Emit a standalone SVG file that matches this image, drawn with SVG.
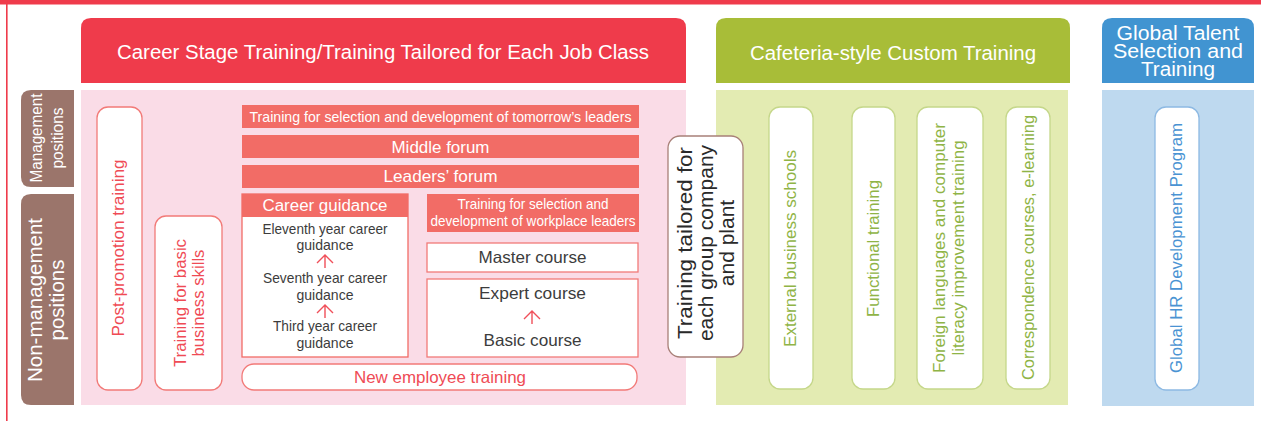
<svg xmlns="http://www.w3.org/2000/svg" width="1261" height="421" viewBox="0 0 1261 421">
<defs>
<style>
text{font-family:"Liberation Sans",Arial,Helvetica,sans-serif;}
.hd{fill:#ffffff;font-size:20px;text-anchor:middle;}
.wt{fill:#ffffff;text-anchor:middle;}
.dk{fill:#3c3c3c;text-anchor:middle;font-size:15px;}
.rt{fill:#ef4b55;text-anchor:middle;}
.gt{fill:#8fb446;text-anchor:middle;font-size:17px;}
.bt{fill:#4a93d3;text-anchor:middle;font-size:17px;}
.bar{fill:#f26c66;}
.rbox{fill:#ffffff;stroke:#f27a78;stroke-width:1.3;}
.gbox{fill:#ffffff;stroke:#c5d78a;stroke-width:1.3;}
.bbox{fill:#ffffff;stroke:#8db9e3;stroke-width:1.3;}
.arr{fill:none;stroke:#f0505a;stroke-width:1.4;}
</style>
<path id="up" d="M-8,8 L0,0 L8,8 M0,0 V13"/>
</defs>

<!-- outer frame -->
<rect x="0" y="0" width="1261" height="4.5" fill="#ef3b4b"/>
<rect x="6" y="0" width="1.6" height="421" fill="#ef3b4b"/>

<!-- column headers and bodies -->
<g id="col-career">
<path d="M81,83 V28 Q81,18 91,18 H676 Q686,18 686,28 V83 Z" fill="#ef3b4b"/>
<rect x="81" y="90" width="605" height="315" fill="#fadce7"/>
<text class="hd" x="383" y="59" textLength="532" lengthAdjust="spacingAndGlyphs">Career Stage Training/Training Tailored for Each Job Class</text>
</g>
<g id="col-cafeteria">
<path d="M716,83 V28 Q716,18 726,18 H1060 Q1070,18 1070,28 V83 Z" fill="#a8bd38"/>
<rect x="716" y="90" width="352" height="315" fill="#e3ebb2"/>
<text class="hd" x="893" y="60" textLength="286" lengthAdjust="spacingAndGlyphs">Cafeteria-style Custom Training</text>
</g>
<g id="col-global">
<path d="M1102,83 V28 Q1102,18 1112,18 H1244 Q1254,18 1254,28 V83 Z" fill="#4194d1"/>
<rect x="1102" y="90" width="152" height="316" fill="#bed9ef"/>
<text class="hd" style="font-size:20px"><tspan x="1178" y="40" textLength="123" lengthAdjust="spacingAndGlyphs">Global Talent</tspan><tspan x="1178" y="58" textLength="130" lengthAdjust="spacingAndGlyphs">Selection and</tspan><tspan x="1178" y="76" textLength="74" lengthAdjust="spacingAndGlyphs">Training</tspan></text>
</g>

<!-- row labels -->
<g id="label-management">
<path d="M74,90 H31 Q21,90 21,100 V177 Q21,187 31,187 H74 Z" fill="#9b756b"/>
<text class="wt" style="font-size:16px" transform="translate(42,138) rotate(-90)"><tspan x="0" y="0" textLength="89" lengthAdjust="spacingAndGlyphs">Management</tspan><tspan x="0" dy="21" textLength="61" lengthAdjust="spacingAndGlyphs">positions</tspan></text>
</g>
<g id="label-nonmanagement">
<path d="M74,194 H31 Q21,194 21,204 V395 Q21,405 31,405 H74 Z" fill="#9b756b"/>
<text class="wt" style="font-size:20.5px" transform="translate(42,300) rotate(-90)"><tspan x="0" y="0">Non-management</tspan><tspan x="0" dy="22">positions</tspan></text>
</g>

<!-- career stage nodes -->
<g id="post-promotion">
<rect class="rbox" x="97" y="107" width="45" height="283" rx="11"/>
<text class="rt" style="font-size:16.5px" transform="translate(124,248) rotate(-90)" textLength="177" lengthAdjust="spacingAndGlyphs">Post-promotion training</text>
</g>
<g id="basic-skills">
<rect class="rbox" x="155" y="216" width="67" height="174" rx="11"/>
<text class="rt" style="font-size:16.5px" transform="translate(185.5,303) rotate(-90)"><tspan x="0" y="0" textLength="128" lengthAdjust="spacingAndGlyphs">Training for basic</tspan><tspan x="0" dy="18" textLength="107" lengthAdjust="spacingAndGlyphs">business skills</tspan></text>
</g>
<g id="tomorrows-leaders">
<rect class="bar" x="242" y="105" width="397" height="23"/>
<text class="wt" style="font-size:15px" x="440.5" y="121.5" textLength="382" lengthAdjust="spacingAndGlyphs">Training for selection and development of tomorrow’s leaders</text>
</g>
<g id="middle-forum">
<rect class="bar" x="242" y="135" width="397" height="23"/>
<text class="wt" style="font-size:17px" x="440.5" y="152.5" textLength="98" lengthAdjust="spacingAndGlyphs">Middle forum</text>
</g>
<g id="leaders-forum">
<rect class="bar" x="242" y="165" width="397" height="23"/>
<text class="wt" style="font-size:17px" x="440.5" y="182" textLength="114" lengthAdjust="spacingAndGlyphs">Leaders’ forum</text>
</g>
<g id="career-guidance">
<rect x="242" y="194" width="166" height="163" fill="#ffffff" stroke="#f26c66" stroke-width="1.3"/>
<rect class="bar" x="242" y="194" width="166" height="23"/>
<text class="wt" style="font-size:16px" x="325" y="211" textLength="125" lengthAdjust="spacingAndGlyphs">Career guidance</text>
<text class="dk" x="325" y="233.5" textLength="125" lengthAdjust="spacingAndGlyphs">Eleventh year career</text>
<text class="dk" x="325" y="250" textLength="57" lengthAdjust="spacingAndGlyphs">guidance</text>
<text class="dk" x="325" y="282.5" textLength="124" lengthAdjust="spacingAndGlyphs">Seventh year career</text>
<text class="dk" x="325" y="300" textLength="57" lengthAdjust="spacingAndGlyphs">guidance</text>
<text class="dk" x="325" y="330.5" textLength="104" lengthAdjust="spacingAndGlyphs">Third year career</text>
<text class="dk" x="325" y="348" textLength="57" lengthAdjust="spacingAndGlyphs">guidance</text>
</g>
<g id="workplace-leaders">
<rect class="bar" x="427" y="194" width="212" height="38"/>
<text class="wt" style="font-size:14.5px" x="533" y="209" textLength="151" lengthAdjust="spacingAndGlyphs">Training for selection and</text>
<text class="wt" style="font-size:14.5px" x="533" y="225.5" textLength="205" lengthAdjust="spacingAndGlyphs">development of workplace leaders</text>
</g>
<g id="master-course">
<rect class="rbox" x="427" y="243" width="211" height="29"/>
<text class="dk" style="font-size:16.5px" x="532.5" y="262.5" textLength="108" lengthAdjust="spacingAndGlyphs">Master course</text>
</g>
<g id="expert-basic">
<rect class="rbox" x="427" y="279" width="211" height="78"/>
<text class="dk" style="font-size:16.5px" x="532.5" y="298.5" textLength="107" lengthAdjust="spacingAndGlyphs">Expert course</text>
<text class="dk" style="font-size:16.5px" x="532.5" y="345.5" textLength="98" lengthAdjust="spacingAndGlyphs">Basic course</text>
</g>
<g id="new-employee">
<rect class="rbox" x="242" y="364" width="395" height="26" rx="12"/>
<text class="rt" style="font-size:16.5px" x="440" y="383" textLength="172" lengthAdjust="spacingAndGlyphs">New employee training</text>
</g>

<!-- group company node -->
<g id="group-company">
<rect x="668" y="136" width="75" height="221" rx="12" fill="#ffffff" stroke="#a88078" stroke-width="1.3"/>
<text style="font-size:21px;fill:#2a2a2a;text-anchor:middle" transform="translate(692,243) rotate(-90)"><tspan x="0" y="0" textLength="192" lengthAdjust="spacingAndGlyphs">Training tailored for</tspan><tspan x="0" dy="21">each group company</tspan><tspan x="0" dy="21">and plant</tspan></text>
</g>

<!-- cafeteria nodes -->
<g id="external-schools">
<rect class="gbox" x="769" y="107" width="44" height="282" rx="11"/>
<text class="gt" transform="translate(796,248.5) rotate(-90)" textLength="197" lengthAdjust="spacingAndGlyphs">External business schools</text>
</g>
<g id="functional-training">
<rect class="gbox" x="852" y="107" width="43" height="282" rx="11"/>
<text class="gt" transform="translate(879,248.5) rotate(-90)" textLength="137" lengthAdjust="spacingAndGlyphs">Functional training</text>
</g>
<g id="foreign-languages">
<rect class="gbox" x="917" y="107" width="66" height="282" rx="11"/>
<text class="gt" transform="translate(945,248) rotate(-90)"><tspan x="0" y="0" textLength="250" lengthAdjust="spacingAndGlyphs">Foreign languages and computer</tspan><tspan x="0" dy="19" textLength="215" lengthAdjust="spacingAndGlyphs">literacy improvement training</tspan></text>
</g>
<g id="correspondence">
<rect class="gbox" x="1006" y="107" width="44" height="282" rx="11"/>
<text class="gt" transform="translate(1033.5,247.5) rotate(-90)" textLength="265" lengthAdjust="spacingAndGlyphs">Correspondence courses, e-learning</text>
</g>

<!-- global node -->
<g id="global-hr">
<rect class="bbox" x="1155" y="107" width="44" height="283" rx="11"/>
<text class="bt" transform="translate(1182,248) rotate(-90)" textLength="250" lengthAdjust="spacingAndGlyphs">Global HR Development Program</text>
</g>

<!-- connectors -->
<g id="connectors" class="arr">
<use href="#up" x="325" y="255"/>
<use href="#up" x="325" y="305"/>
<use href="#up" x="532" y="311"/>
</g>
</svg>
